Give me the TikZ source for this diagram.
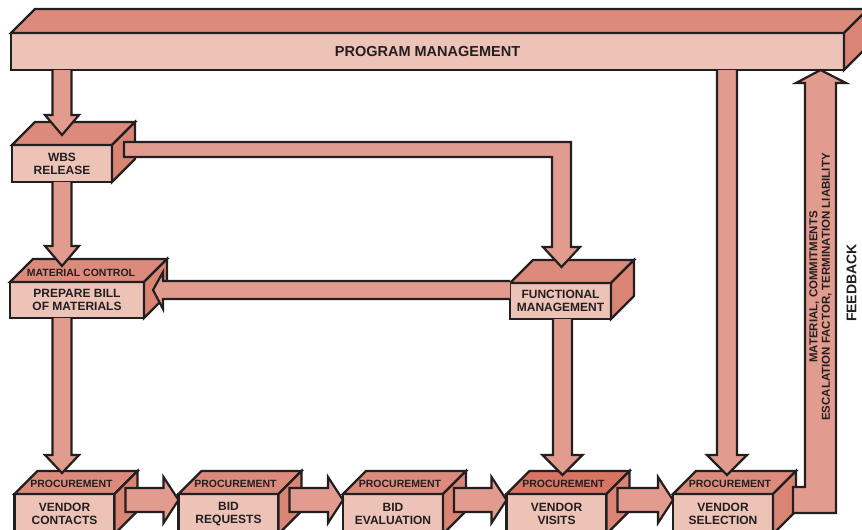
\documentclass[tikz,border=0pt]{standalone}
\usepackage{fontspec}
\setmainfont{Liberation Sans}
\usepackage{tikz}
\usetikzlibrary{calc}
\definecolor{ink}{HTML}{231F20}
\definecolor{frontbg}{HTML}{EDC3B7}
\definecolor{topbg}{HTML}{DC8A7B}
\definecolor{sidebg}{HTML}{DA8474}
\definecolor{topdark}{HTML}{D87464}
\definecolor{arrowbg}{HTML}{E29B8F}
\tikzset{
  front/.style={draw=ink,fill=frontbg,line width=2.2pt,inner sep=0pt,outer sep=0pt,
                align=center,font=\fontsize{12}{13}\selectfont\bfseries,text=ink},
  topface/.style={draw=ink,fill=topbg,line width=2.2pt},
  sideface/.style={draw=ink,fill=sidebg,line width=2.2pt},
  fatarr/.style={draw=ink,fill=arrowbg,line width=2.2pt,line join=miter},
  facelabel/.style={font=\fontsize{10.5}{12}\selectfont\bfseries,text=ink,inner sep=0pt},
  sidelabel/.style={rotate=90,align=center,text=ink,inner sep=0pt}
}
\newcommand{\boxfaces}[3][topbg]{%
  \draw[topface,fill=#1] (#2.north west) -- ++(#3,-#3) -- ($(#2.north east)+(#3,-#3)$)
    -- (#2.north east) -- cycle;
  \draw[sideface] (#2.north east) -- ++(#3,-#3) -- ($(#2.south east)+(#3,-#3)$)
    -- (#2.south east) -- cycle;
}
\newcommand{\fatdown}[5]{% start, tip, half shaft, half head, head length
  \draw[fatarr] ($(#1)+(-#3,0)$) -- ($(#2)+(-#3,-#5)$) -- ($(#2)+(-#4,-#5)$) -- (#2)
    -- ($(#2)+(#4,-#5)$) -- ($(#2)+(#3,-#5)$) -- ($(#1)+(#3,0)$);
}
\newcommand{\fatright}[2]{% from box, to box
  \draw[fatarr] ($(#1.north east)+(11,-6)$) -- ($(#2.north west)+(-15,-6)$)
    -- ($(#2.north west)+(-15,-17)$) -- ($(#2.north west)+(0,6)$)
    -- ($(#2.north west)+(-15,29)$) -- ($(#2.north west)+(-15,18)$)
    -- ($(#1.north east)+(11,18)$) -- cycle;
}

\begin{document}
\begin{tikzpicture}[x=1pt,y=-1pt]
  \useasboundingbox (0,0) rectangle (862,530);
  \clip (0,0) rectangle (862,530);

  % boxes
  \node[front,minimum width=833pt,minimum height=37pt,
        font=\fontsize{14.5}{16}\selectfont\bfseries] (pm) at (427.5,51.5)
    {PROGRAM MANAGEMENT};
  \boxfaces{pm}{24}
  \node[front,minimum width=100pt,minimum height=37pt] (wbs) at (62,163.5)
    {WBS\\RELEASE};
  \boxfaces{wbs}{23}
  \node[front,minimum width=134pt,minimum height=36pt] (mat) at (77,300)
    {PREPARE BILL\\OF MATERIALS};
  \boxfaces{mat}{23}
  \node[front,minimum width=101pt,minimum height=36pt] (fm) at (560.5,301)
    {FUNCTIONAL\\MANAGEMENT};
  \boxfaces{fm}{23}
  \foreach \nm/\cx/\tc/\txt in {b1/64.5/topbg/{VENDOR\\CONTACTS},
      b2/228.5/topbg/{BID\\REQUESTS}, b3/393/topbg/{BID\\EVALUATION},
      b4/556.5/topdark/{VENDOR\\VISITS}, b5/723/topbg/{VENDOR\\SELECTION}}{
    \node[front,minimum width=100pt,minimum height=40pt] (\nm) at (\cx,514) {\txt};
    \boxfaces[\tc]{\nm}{23}
  }

  % downward arrows
  \coordinate (s1) at (wbs.north |- pm.south);
  \coordinate (t1) at ($(wbs.north)+(0,-10)$);
  \coordinate (s2) at (wbs.south);
  \coordinate (t2) at ($(wbs.south |- mat.north)+(0,-16)$);
  \coordinate (s3) at (wbs.south |- mat.south);
  \coordinate (t3) at ($(wbs.south |- b1.north)+(0,-21)$);
  \coordinate (s4) at ($(fm.south)+(2,0)$);
  \coordinate (t4) at ($(s4 |- b4.north)+(0,-19)$);
  \coordinate (s5) at ($(b5.north |- pm.south)+(4,0)$);
  \coordinate (t5) at ($(s5 |- b5.north)+(0,-19)$);
  \foreach \s/\t/\w/\h/\l in {s1/t1/9.5/17/20, s2/t2/9.5/17/20, s3/t3/9.5/17/18,
      s4/t4/9.5/20/20, s5/t5/10/20/20}{
    \fatdown{\s}{\t}{\w}{\h}{\l}
  }

  % wbs to functional management
  \draw[fatarr] ($(wbs.north east)+(12,-3)$) -- ($(wbs.north east -| fm.north)+(10.5,-3)$)
    -- ($(fm.north)+(10.5,-36)$) -- ($(fm.north)+(19.5,-36)$) -- ($(fm.north)+(1,-16)$)
    -- ($(fm.north)+(-17.5,-36)$) -- ($(fm.north)+(-8.5,-36)$)
    -- ($(wbs.north east -| fm.north)+(-8.5,12)$) -- ($(wbs.north east)+(12,12)$) -- cycle;

  % functional management to bill of materials
  \draw[fatarr] ($(fm.west |- mat.east)+(0,-19)$) -- ($(mat.east)+(19,-19)$)
    -- ($(mat.east)+(19,-28)$) -- ($(mat.east)+(9,-10)$) -- ($(mat.east)+(19,9)$)
    -- ($(mat.east)+(19,-1)$) -- ($(fm.west |- mat.east)+(0,-1)$);

  % procurement chain
  \foreach \a/\b in {b1/b2, b2/b3, b3/b4, b4/b5}{
    \fatright{\a}{\b}
  }

  % feedback
  \coordinate (fb) at ($(b5.north east)+(47.5,0)$);
  \draw[fatarr] ($(b5.north east)+(20,-7)$) -- ($(b5.north east)+(32,-7)$)
    -- ($(fb |- pm.south)+(-15.5,13)$) -- ($(fb |- pm.south)+(-24.5,13)$)
    -- (fb |- pm.south) -- ($(fb |- pm.south)+(25.5,13)$)
    -- ($(fb |- pm.south)+(15.5,13)$) -- ($(b5.north east)+(63,19)$)
    -- ($(b5.north east)+(20,19)$) -- cycle;

  % labels
  \node[facelabel] (matctl) at ($(mat.north)+(4,-9)$) {MATERIAL CONTROL};
  \foreach \nm in {b1,b2,b3,b4,b5}{
    \node[facelabel] (\nm lbl) at ($(\nm.north)+(7,-10)$) {PROCUREMENT};
  }
  \node[sidelabel,font=\fontsize{11.5}{12.5}\selectfont\bfseries] (fbtext)
    at ($(fb)+(0,-207)$)
    {MATERIAL, COMMITMENTS\\ESCALATION FACTOR, TERMINATION LIABILITY};
  \node[sidelabel,font=\fontsize{14}{16}\selectfont\bfseries] (fblbl)
    at ($(fbtext)+(31,-4)$) {FEEDBACK};
\end{tikzpicture}
\end{document}
